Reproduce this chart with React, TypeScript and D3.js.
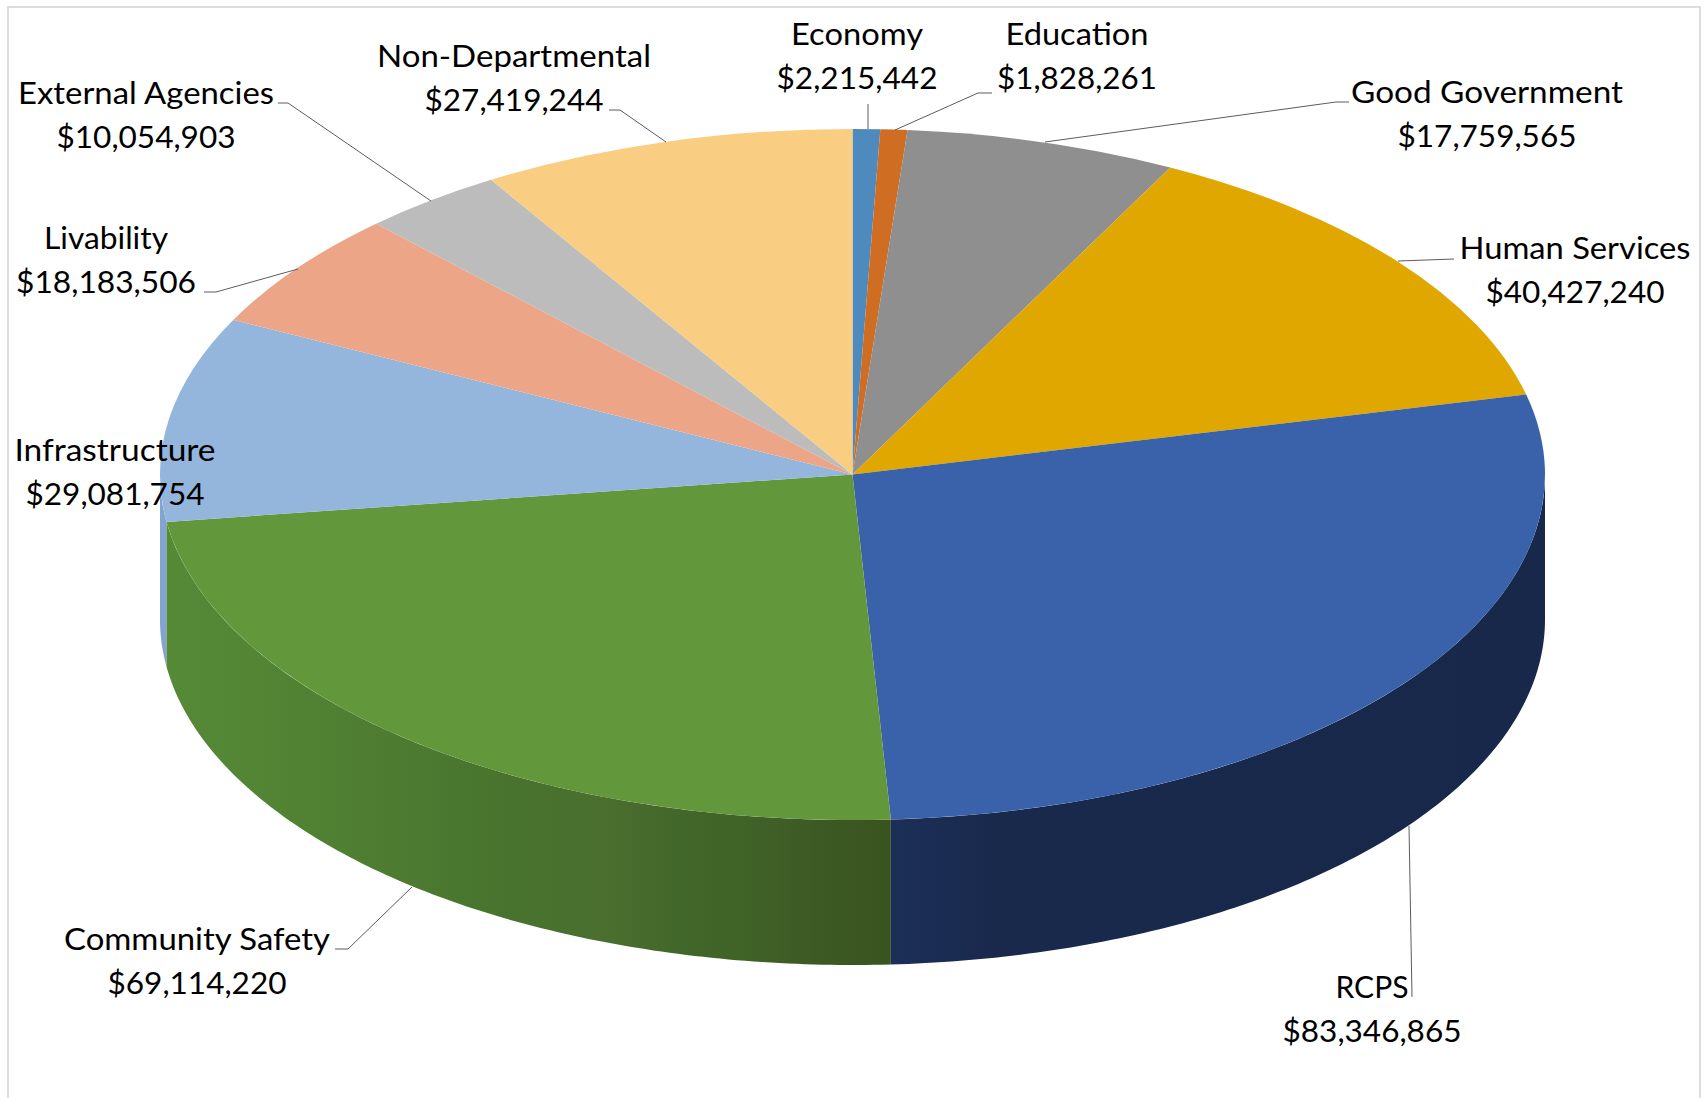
import React from "react";
import * as d3 from "d3";

// Budget categories, clockwise from twelve o'clock
const categories = [
  "Economy",
  "Education",
  "Good Government",
  "Human Services",
  "RCPS",
  "Community Safety",
  "Infrastructure",
  "Livability",
  "External Agencies",
  "Non-Departmental",
];
const amounts = [
  2215442, 1828261, 17759565, 40427240, 83346865, 69114220, 29081754, 18183506, 10054903, 27419244,
];
const topColors = [
  "#4f8abf", "#cf6e22", "#8f8f8f", "#e0a700", "#3a62aa",
  "#62983b", "#94b5dc", "#eca587", "#bcbcbc", "#f9cd82",
];

// Label anchor [x, baseline of first line] for each category
const labelAnchors = [
  [857, 45], [1077, 45], [1487, 103], [1575, 259], [1372, 998],
  [197, 950], [115, 461], [106, 249], [146, 104], [514, 67],
];
// Set widths of the name line and the amount line
const nameWidths = [132, 143, 272, 231, 73, 266, 201, 124, 256, 274];
const amountWidths = [161, 160, 179, 179, 179, 179, 179, 180, 179, 179];
// Leader lines running from each label to its slice
const leaders = [
  [[868, 104], [868, 129]],
  [[992, 93], [978, 93], [895, 130]],
  [[1349, 102], [1336, 102], [1045, 142]],
  [[1454, 259], [1398, 261]],
  [[1409, 826], [1412, 997]],
  [[335, 949], [348, 949], [412, 887]],
  [],
  [[204, 292], [216, 292], [298, 269]],
  [[278, 103], [288, 103], [431, 201]],
  [[609, 110], [620, 110], [666, 142]],
];

const WIDTH = 1704;
const HEIGHT = 1098;
const CX = 852.5;
const CY = 474.5;
const RX = 692.5;
const RY = 345.5;
const DEPTH = 145;
const RAD = Math.PI / 180;

// The tilted view shifts slice boundaries slightly away from their true angles
const viewAngle = d3
  .scaleLinear()
  .domain([0, 2.66, 4.86, 26.2, 74.8, 175, 258, 293.1, 314.9, 327, 360])
  .range([0, 2.3, 4.56, 27.3, 76.6, 176.8, 262, 296.6, 316.5, 328.5, 360]);

const slices = d3
  .pie<number>()
  .sort(null)
  .value((d) => d)(amounts)
  .map((s) => ({
    index: s.index,
    start: viewAngle(s.startAngle / RAD) * RAD,
    end: viewAngle(s.endAngle / RAD) * RAD,
  }));

const arcPath = d3.arc<any>().innerRadius(0).outerRadius(RX);

const rim = (deg: number, drop: number): [number, number] => [
  CX + RX * Math.sin(deg * RAD),
  CY - RY * Math.cos(deg * RAD) + drop,
];

// Outline of a drum wall between two rim angles
function wallPath(from: number, to: number) {
  const upper = d3.range(0, 121).map((i) => rim(from + ((to - from) * i) / 120, 0));
  const lower = d3.range(0, 121).map((i) => rim(to + ((from - to) * i) / 120, DEPTH));
  return d3.line()([...upper, ...lower]) + "Z";
}

const greenWallStops = [
  [165, "#568a37"], [300, "#518233"], [420, "#4c7a30"], [510, "#47732e"],
  [600, "#4a6f2e"], [680, "#42672a"], [760, "#3f6127"], [830, "#3c5823"], [890, "#3a5420"],
] as [number, string][];
const navyWallStops = [
  [890, "#1c2f58"], [1000, "#19294c"], [1545, "#18284a"],
] as [number, string][];

const X0 = d3.scaleLinear().domain([0, WIDTH]).range([0, 100]);

function Gradient({ id, stops }: { id: string; stops: [number, string][] }) {
  return (
    <linearGradient id={id} gradientUnits="userSpaceOnUse" x1={0} x2={WIDTH} y1={0} y2={0}>
      {stops.map(([x, c]) => (
        <stop key={x} offset={`${X0(x)}%`} stopColor={c} />
      ))}
    </linearGradient>
  );
}

export default function App() {
  const rcps = slices[4];
  const safety = slices[5];
  const usd = d3.format("$,");
  return (
    <svg
      width={WIDTH}
      height={HEIGHT}
      viewBox={`0 0 ${WIDTH} ${HEIGHT}`}
      style={{ position: "absolute", left: 0, top: 0, background: "#fff" }}
    >
      <defs>
        <Gradient id="greenWall" stops={greenWallStops} />
        <Gradient id="navyWall" stops={navyWallStops} />
      </defs>

      <rect x={8} y={7} width={1692} height={1120} fill="none" stroke="#d2d2d2" strokeWidth={1.5} />

      {/* Drum wall: only the slices facing the viewer show one */}
      <path d={wallPath(safety.end / RAD, 270)} fill="#85a3d0" />
      <path d={wallPath(90, rcps.end / RAD)} fill="url(#navyWall)" />
      <path d={wallPath(safety.start / RAD, safety.end / RAD)} fill="url(#greenWall)" />

      {/* Top face */}
      <g transform={`translate(${CX},${CY}) scale(1,${RY / RX})`}>
        {slices.map((s) => (
          <path
            key={categories[s.index]}
            d={arcPath({ startAngle: s.start, endAngle: s.end }) as string}
            fill={topColors[s.index]}
          />
        ))}
      </g>

      {/* Leaders */}
      {leaders.map((pts, i) =>
        pts.length ? (
          <path
            key={categories[i]}
            d={d3.line()(pts as [number, number][]) as string}
            fill="none"
            stroke="#5c5c5c"
            strokeWidth={1}
          />
        ) : null
      )}

      {/* Name and amount for every category */}
      <g fontFamily="Lato, 'Open Sans', sans-serif" fontSize={30.5} fill="#000" textAnchor="middle">
        {categories.map((name, i) => (
          <g key={name}>
            <text
              x={labelAnchors[i][0]}
              y={labelAnchors[i][1]}
              textLength={nameWidths[i]}
              lengthAdjust="spacingAndGlyphs"
            >
              {name}
            </text>
            <text
              x={labelAnchors[i][0]}
              y={labelAnchors[i][1] + 44}
              textLength={amountWidths[i]}
              lengthAdjust="spacingAndGlyphs"
            >
              {usd(amounts[i])}
            </text>
          </g>
        ))}
      </g>
    </svg>
  );
}
